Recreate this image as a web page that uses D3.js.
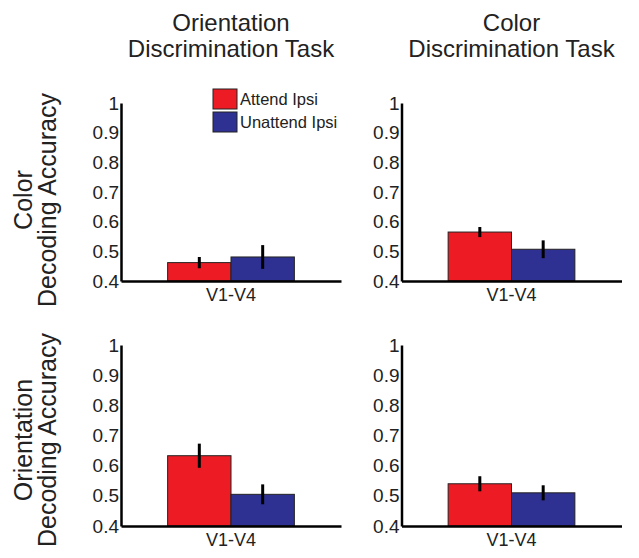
<!DOCTYPE html>
<html>
<head>
<meta charset="utf-8">
<style>
html, body { margin: 0; background: #fff; }
svg { display: block; font-family: 'Liberation Sans', Arial, sans-serif; }
.axis path { stroke: #000; stroke-width: 2.5; }
.axis line { stroke: #000; stroke-width: 1.5; }
.axis text { font-size: 19px; fill: #222; }
.title { font-size: 24px; fill: #222; }
.bar { stroke: #222; stroke-width: 1; }
.err { stroke: #000; stroke-width: 3; }
</style>
</head>
<body>
<script src="https://cdn.jsdelivr.net/npm/d3@7"></script>
<script>
var width = 639
var height = 558

// data
var tasks = ['Orientation Discrimination Task', 'Color Discrimination Task']
var taskLines = [['Orientation', 'Discrimination Task'], ['Color', 'Discrimination Task']]
var decodings = ['Color Decoding Accuracy', 'Orientation Decoding Accuracy']
var decodingLines = [['Color', 'Decoding Accuracy'], ['Orientation', 'Decoding Accuracy']]
var areas = ['V1-V4']
var series = ['Attend Ipsi', 'Unattend Ipsi']
var colors = ['#ed1c24', '#2e3192']
var yTicks = [0.4, 0.5, 0.6, 0.7, 0.8, 0.9, 1]

// values[row][col][series], row = decoding, col = task
var means = [
    [[0.462, 0.481], [0.565, 0.507]],
    [[0.633, 0.505], [0.540, 0.510]]
]
var errs = [
    [[0.019, 0.040], [0.017, 0.030]],
    [[0.040, 0.033], [0.025, 0.025]]
]

var colX = [121, 401.5]
var rowY = [[103, 281], [345, 526]]
var panelW = 220

var svg = d3.select('body').append('svg')
    .attr('width', width)
    .attr('height', height)

// column titles
taskLines.forEach(function (lines, c) {
    var t = svg.append('text')
        .attr('class', 'title')
        .attr('text-anchor', 'middle')
        .attr('x', colX[c] + panelW / 2)
        .attr('y', 31)
    lines.forEach(function (s, i) {
        t.append('tspan').attr('x', colX[c] + panelW / 2).attr('dy', i ? 26 : 0).text(s)
    })
})

// row titles
decodingLines.forEach(function (lines, r) {
    var cy = r === 0 ? 200 : 440
    var t = svg.append('text')
        .attr('class', 'title')
        .style('font-size', '25px')
        .attr('text-anchor', 'middle')
        .attr('transform', 'translate(32,' + cy + ') rotate(-90)')
    lines.forEach(function (s, i) {
        t.append('tspan').attr('x', 0).attr('dy', i ? 24 : 0).text(s)
    })
})

decodings.forEach(function (dec, r) {
    tasks.forEach(function (task, c) {
        var g = svg.append('g').attr('transform', 'translate(' + colX[c] + ',0)')

        var y = d3.scaleLinear().domain([0.4, 1]).range(rowY[r].slice().reverse())
        var x = d3.scaleBand().domain(areas).range([0, panelW]).paddingOuter(0.368)
        var xs = d3.scaleBand().domain(series).range([0, x.bandwidth()])

        var rows = series.map(function (s, i) {
            return { s: s, i: i, v: means[r][c][i], e: errs[r][c][i] }
        })

        g.selectAll('.bar').data(rows).enter().append('rect')
            .attr('class', 'bar')
            .attr('x', function (d) { return x(areas[0]) + xs(d.s) })
            .attr('width', xs.bandwidth())
            .attr('y', function (d) { return y(d.v) })
            .attr('height', function (d) { return y(0.4) - y(d.v) })
            .attr('fill', function (d) { return colors[d.i] })

        g.selectAll('.err').data(rows).enter().append('line')
            .attr('class', 'err')
            .attr('x1', function (d) { return x(areas[0]) + xs(d.s) + xs.bandwidth() / 2 })
            .attr('x2', function (d) { return x(areas[0]) + xs(d.s) + xs.bandwidth() / 2 })
            .attr('y1', function (d) { return y(d.v - d.e) })
            .attr('y2', function (d) { return y(d.v + d.e) })

        g.append('g').attr('class', 'axis')
            .call(d3.axisLeft(y).tickValues(yTicks).tickFormat(d3.format('')).tickSize(0).tickPadding(2))

        var xa = g.append('g').attr('class', 'axis')
            .attr('transform', 'translate(0,' + y(0.4) + ')')
            .call(d3.axisBottom(x).tickSize(0).tickPadding(7))
        xa.selectAll('text').style('font-size', '18px')

        // legend in first panel
        if (r === 0 && c === 0) {
            var lg = svg.append('g').attr('transform', 'translate(213,89)')
            series.forEach(function (s, i) {
                lg.append('rect')
                    .attr('class', 'bar')
                    .attr('y', i * 23)
                    .attr('width', 24)
                    .attr('height', 20)
                    .attr('fill', colors[i])
                lg.append('text')
                    .attr('x', 27)
                    .attr('y', i * 23 + 16)
                    .style('font-size', '16.5px')
                    .attr('fill', '#222')
                    .text(s)
            })
        }
    })
})
</script>
</body>
</html>
